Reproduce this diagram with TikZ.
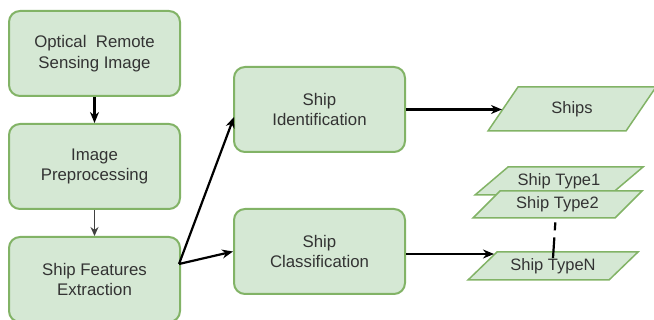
\documentclass[tikz,border=0pt]{standalone}
\usepackage{fontspec}
\setmainfont{Liberation Sans}
\usetikzlibrary{arrows.meta,calc}
\definecolor{gfill}{HTML}{D5E8D4}
\definecolor{gline}{HTML}{82B366}
\definecolor{txt}{HTML}{333333}
\tikzset{
  box/.style={draw=gline, fill=gfill, line width=2pt, rounded corners=11pt,
    minimum width=171pt, minimum height=85pt, align=center, text=txt,
    font=\fontsize{16.8}{20.7}\selectfont, inner sep=0pt},
  parabox/.style={inner sep=0pt, text=txt, font=\fontsize{16.5}{19}\selectfont},
  paraline/.style={draw=gline, fill=gfill, line width=1.5pt},
  conn/.style={line width=2.2pt, -{Stealth[length=11pt,width=9pt]}},
  thinconn/.style={line width=1.2pt, draw=black!75, -{Stealth[length=9pt,width=8pt]}},
}
% \mypara{name}{L}{R}{top}{bottom}{skew}{text}
\newcommand{\mypara}[7]{%
  \path[paraline] (#2+#6,#4) -- (#3,#4) -- (#3-#6,#5) -- (#2,#5) -- cycle;
  \node[parabox] (#1) at ({(#2+#3)/2},{(#4+#5)/2}) {#7};
}
\begin{document}
\begin{tikzpicture}[x=1pt,y=-1pt]
\useasboundingbox (0,0) rectangle (654,320);
\clip (0,0) rectangle (654,320);
\node[box] (osi) at (94.5,53.5) {Optical\ \ Remote\\Sensing Image};
\node[box] (pre) at (94.5,166.5) {Image\\Preprocessing};
\node[box] (fe) at (94.5,279.5) {Ship Features\\Extraction};
\node[box] (sid) at (319.5,109.5) {Ship\\Identification};
\node[box] (scl) at (319.5,251.5) {Ship\\Classification};

\mypara{ships}{488}{656}{87}{131}{30}{Ships}
\mypara{t1}{475}{643}{167}{195}{33}{Ship Type1}
\mypara{t2}{473}{642}{191}{218}{27}{Ship Type2}
\mypara{tn}{468}{638}{252}{280}{29}{Ship TypeN}

\coordinate (fan) at (179,264);
\coordinate (sidin) at (234,117);
\coordinate (shipsin) at (502,109.5);
\coordinate (tnin) at (494,254);

\draw[conn] (osi) -- (pre);
\draw[thinconn] (pre) -- (fe);
\draw[conn] (fan) -- (sidin);
\draw[conn] (fan) -- (scl.west);
\draw[conn] (sid.east) -- (shipsin);
\draw[conn] (scl.east |- tnin) -- (tnin);
\draw[line width=2.2pt, dash pattern=on 0pt off 10pt on 8pt off 7pt on 12pt]
  ($(t2.south)+(-1.5,0)$) -- ($(tn.north)+(0,0)$);
\end{tikzpicture}
\end{document}
